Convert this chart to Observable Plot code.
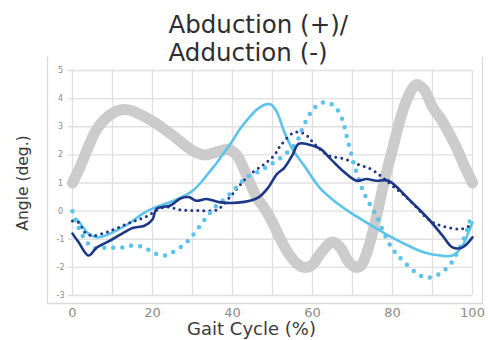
<!DOCTYPE html>
<html>
<head>
<meta charset="utf-8">
<script src="https://cdn.jsdelivr.net/npm/d3@7"></script>
<script src="https://cdn.jsdelivr.net/npm/@observablehq/plot@0.6"></script>
<style>
  html, body { margin: 0; padding: 0; background: #fff; }
</style>
</head>
<body>
<div id="chart"></div>
<script>
// ---- Data ----
const titleLines = ["Abduction (+)/", "Adduction (-)"];
const xLabel = "Gait Cycle (%)";
const yLabel = "Angle (deg.)";
const xTicks = [0, 20, 40, 60, 80, 100];
const xGrid = [0, 10, 20, 30, 40, 50, 60, 70, 80, 90, 100];
const yTicks = [-3, -2, -1, 0, 1, 2, 3, 4, 5];

// Normative band (thick gray)
const grayX = [0, 2, 4, 6, 8, 10, 12, 14, 16, 20, 25, 30, 33, 36, 39, 41, 43, 46, 48, 50, 52, 54, 56, 58, 60, 62, 65, 67, 69, 71, 72, 73, 74, 76, 78, 80, 82, 84, 86, 88, 90, 92, 94, 96, 98, 100];
const grayY = [1.0, 1.6, 2.3, 2.9, 3.25, 3.48, 3.6, 3.6, 3.5, 3.2, 2.7, 2.15, 2.0, 2.1, 2.2, 2.0, 1.45, 0.5, 0.1, -0.4, -1.0, -1.5, -1.85, -2.0, -1.9, -1.5, -1.1, -1.3, -1.8, -2.0, -1.95, -1.7, -1.3, -0.2, 1.1, 2.2, 3.3, 4.1, 4.5, 4.3, 3.7, 3.3, 2.8, 2.25, 1.6, 1.0];

// Light blue solid
const lightX = [0, 1, 2, 4, 6, 8, 10, 14, 18, 22, 25, 28, 30, 32, 34, 36, 38, 40, 42, 44, 46, 48, 49.5, 51, 53, 55, 58, 62, 66, 70, 74, 77, 79, 84, 88, 92, 95, 97.5, 99, 100];
const lightY = [-0.35, -0.3, -0.45, -0.8, -0.93, -0.88, -0.75, -0.45, -0.05, 0.2, 0.35, 0.55, 0.72, 1.0, 1.35, 1.7, 2.1, 2.5, 2.95, 3.3, 3.6, 3.78, 3.8, 3.55, 2.8, 2.2, 1.6, 0.8, 0.3, -0.1, -0.45, -0.7, -0.87, -1.23, -1.47, -1.58, -1.58, -1.23, -0.75, -0.4];

// Light blue dotted
const lightDotX = [0, 1, 2.5, 5, 8, 12.5, 15, 18, 20, 23, 25, 28.5, 31, 33.5, 36, 38.5, 41, 43.5, 47, 49.5, 52.8, 56, 57.8, 60.3, 62.8, 65.3, 67.4, 68.7, 70, 71, 72.8, 74.5, 76, 77.4, 79.5, 81, 83, 85.8, 88.3, 90.8, 92.8, 94.5, 95.8, 97.8, 99, 99.6];
const lightDotY = [0.0, -0.4, -0.87, -1.29, -1.3, -1.29, -1.23, -1.29, -1.47, -1.58, -1.47, -1.11, -0.69, -0.22, 0.2, 0.49, 0.85, 1.2, 1.44, 1.65, 1.98, 2.45, 3.04, 3.64, 3.87, 3.75, 3.28, 2.57, 1.86, 1.38, 0.67, 0.2, -0.16, -0.63, -1.23, -1.52, -1.82, -2.18, -2.36, -2.3, -2.12, -1.88, -1.58, -0.99, -0.52, -0.16];

// Dark blue solid
const navyX = [0, 1.5, 4, 6, 8, 10, 13, 15, 18, 20, 21, 24.5, 27, 29, 31, 33.5, 37, 43, 46.5, 49, 51, 53, 55, 56.5, 58.5, 62, 64.5, 68, 71, 73.5, 76, 79, 84, 89, 92.5, 95, 97.5, 100];
const navyY = [-0.8, -1.1, -1.58, -1.3, -1.15, -1.0, -0.75, -0.6, -0.52, -0.3, 0.08, 0.2, 0.45, 0.5, 0.37, 0.43, 0.31, 0.33, 0.49, 0.85, 1.3, 1.55, 2.0, 2.39, 2.39, 2.21, 1.86, 1.38, 1.08, 1.14, 1.08, 1.08, 0.43, -0.28, -0.87, -1.29, -1.29, -0.93];

// Dark blue dotted
const navyDotX = [0, 1.5, 3, 5, 8.5, 13.5, 18, 23, 27, 31.5, 36, 37.5, 40, 44, 48, 50.5, 52, 55.5, 58, 60.5, 64, 68, 71, 74.5, 77, 79, 84, 89, 91, 94, 97.5, 100];
const navyDotY = [-0.35, -0.4, -0.75, -0.87, -0.75, -0.46, -0.22, 0.14, 0.05, 0.02, 0.04, 0.2, 0.61, 1.26, 1.68, 2.0, 2.33, 2.8, 2.75, 2.39, 1.98, 1.86, 1.68, 1.5, 1.26, 1.02, 0.43, -0.3, -0.46, -0.58, -0.63, -0.46];

const C_GRAY = "#c9c9c9";
const C_LIGHT = "#5cc3ea";
const C_NAVY = "#1c3786";
const C_GRID = "#e0e0e0";
const C_BORDER = "#dadada";

const chart = Plot.plot({
  width: 490,
  height: 340,
  marginTop: 70,
  marginBottom: 45,
  marginLeft: 72,
  marginRight: 18,
  style: { fontFamily: "DejaVu Sans", background: "#fff", overflow: "visible" },
  x: { domain: [0, 100] },
  y: { domain: [-3, 5] },
  marks: [
    // outer panel border (left, right, bottom)
    Plot.frame({ anchor: "left", insetLeft: -25, insetTop: -13, insetBottom: -8, stroke: C_BORDER, strokeWidth: 1.3 }),
    Plot.frame({ anchor: "right", insetRight: -10, insetTop: -13, insetBottom: -8, stroke: C_BORDER, strokeWidth: 1.3 }),
    Plot.frame({ anchor: "bottom", insetLeft: -25, insetRight: -10, insetBottom: -8, stroke: C_BORDER, strokeWidth: 1.3 }),
    Plot.gridX({ ticks: xGrid, stroke: C_GRID, strokeOpacity: 1, strokeWidth: 1.3 }),
    Plot.gridY({ ticks: yTicks, stroke: C_GRID, strokeOpacity: 1, strokeWidth: 1.3, insetLeft: -4 }),
    Plot.axisX({ ticks: xTicks, tickSize: 0, tickPadding: 12, fontSize: 13, fill: "#8c8c8c", label: null }),
    Plot.axisY({ ticks: yTicks, tickSize: 0, tickPadding: 12, textAnchor: "middle", fontSize: 8, fill: "#8c8c8c", label: null, tickFormat: d => String(d) }),
    Plot.line(grayX, { x: grayX, y: grayY, stroke: C_GRAY, strokeWidth: 11, curve: "catmull-rom", strokeOpacity: 0.95 }),
    Plot.line(lightX, { x: lightX, y: lightY, stroke: C_LIGHT, strokeWidth: 2.6, curve: "catmull-rom" }),
    Plot.line(navyDotX, { x: navyDotX, y: navyDotY, stroke: C_NAVY, strokeWidth: 3, strokeDasharray: "0,6", strokeLinecap: "round", curve: "catmull-rom" }),
    Plot.line(lightDotX, { x: lightDotX, y: lightDotY, stroke: C_LIGHT, strokeWidth: 4.5, strokeDasharray: "0,9", strokeLinecap: "round", curve: "catmull-rom" }),
    Plot.line(navyX, { x: navyX, y: navyY, stroke: C_NAVY, strokeWidth: 2.6, curve: "catmull-rom" }),
    Plot.text([xLabel], { frameAnchor: "bottom", textAnchor: "middle", lineAnchor: "middle", dx: -21, dy: 34, fontSize: 18, fill: "#3a3a3a" }),
    Plot.text([yLabel], { frameAnchor: "left", textAnchor: "middle", lineAnchor: "middle", rotate: -90, dx: -49, fontSize: 15.5, fill: "#3a3a3a" }),
    Plot.text([titleLines[0]], { frameAnchor: "top-left", textAnchor: "start", lineAnchor: "middle", dx: 96, dy: -45, fontSize: 24.5, fill: "#2e2e2e" }),
    Plot.text([titleLines[1]], { frameAnchor: "top-left", textAnchor: "start", lineAnchor: "middle", dx: 96, dy: -17, fontSize: 24.5, fill: "#2e2e2e" })
  ]
});
document.getElementById("chart").append(chart);
</script>
</body>
</html>
